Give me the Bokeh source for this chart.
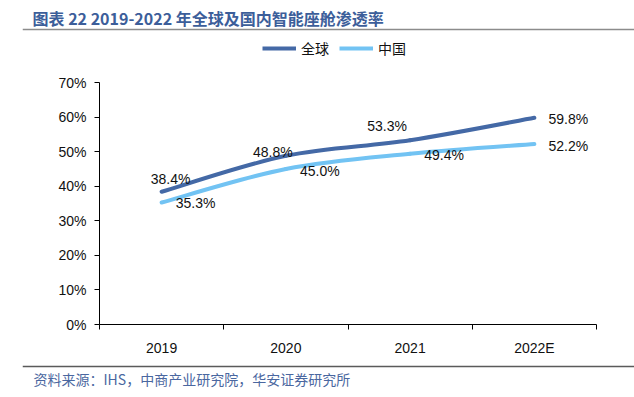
from bokeh.plotting import figure
from bokeh.layouts import column
from bokeh.models import (Range1d, FixedTicker, Label, Legend, LegendItem,
                          ColumnDataSource, Span)
from bokeh.core.properties import value
from bokeh.embed import file_html
from bokeh.resources import INLINE

# ---- data ----
categories = ["2019", "2020", "2021", "2022E"]
global_rate = [38.4, 48.8, 53.3, 59.8]
china_rate = [35.3, 45.0, 49.4, 52.2]
series_names = ["全球", "中国"]
y_ticks = [0, 10, 20, 30, 40, 50, 60, 70]

title_text = "图表 22  2019-2022 年全球及国内智能座舱渗透率"
source_text = "资料来源：IHS，中商产业研究院，华安证券研究所"

# ---- styles ----
C_GLOBAL = "#4469a6"
C_CHINA = "#72c3f3"
C_TITLE = "#3c5e9a"
FONT = "Liberation Sans"
CJK = "Noto Sans CJK SC"

# label offsets (px) for each point: global then china
g_off_x = [9, -13, -23, 34]
g_off_y = [-13, -4, -14, 1]
c_off_x = [34, 34, 34, 34]
c_off_y = [1, 2, 1, 2]

W = 634
H_HEAD, H_MAIN, H_FOOT = 72, 286, 39
xs = [i + 0.5 for i in range(len(categories))]


def blank(height):
    f = figure(width=W, height=height, output_backend="svg",
               toolbar_location=None, x_range=Range1d(22, W),
               y_range=Range1d(height, 0), x_axis_type=None,
               y_axis_type=None, min_border_left=22, min_border_right=0,
               min_border_top=0, min_border_bottom=0, frame_align=False)
    f.grid.visible = False
    f.outline_line_color = None
    f.background_fill_color = "white"
    f.border_fill_color = "white"
    return f


# ---- header: title, rule, legend ----
head = blank(H_HEAD)
head.add_layout(Label(x=32, y=17, text=title_text, text_font=CJK,
                      text_font_size="16px", text_font_style="bold",
                      text_color=C_TITLE, text_baseline="middle"))
head.add_layout(Span(location=29, dimension="width", line_color="#8c8c8c",
                     line_width=1.5))
# legend keys (series drawn outside this header's visible range)
lg_g = head.line(x=xs, y=global_rate, line_color=C_GLOBAL, line_width=4)
lg_c = head.line(x=xs, y=china_rate, line_color=C_CHINA, line_width=4)
legend = Legend(items=[LegendItem(label=series_names[0], renderers=[lg_g]),
                       LegendItem(label=series_names[1], renderers=[lg_c])],
                orientation="horizontal", location=(240, 14),
                glyph_width=34, glyph_height=16, label_standoff=5, spacing=10,
                padding=0, margin=0, border_line_color=None,
                background_fill_alpha=0, label_text_font=CJK,
                label_text_font_size="14px", label_text_color="#111111",
                label_height=16)
head.add_layout(legend, "center")

# ---- main chart ----
p = figure(width=W, height=H_MAIN, output_backend="svg", toolbar_location=None,
           x_range=Range1d(0, len(categories)), y_range=Range1d(0, 70),
           min_border_left=99, min_border_right=38, min_border_top=10,
           min_border_bottom=28, frame_align=False)
p.outline_line_color = None
p.xgrid.visible = False
p.ygrid.visible = False
p.background_fill_color = "white"
p.border_fill_color = "white"


def bezier_source(ys):
    n = len(ys)
    pts = list(zip(xs, ys))
    d = dict(x0=[], y0=[], x1=[], y1=[], cx0=[], cy0=[], cx1=[], cy1=[])
    for i in range(n - 1):
        p0 = pts[max(i - 1, 0)]
        p1 = pts[i]
        p2 = pts[i + 1]
        p3 = pts[min(i + 2, n - 1)]
        d["x0"].append(p1[0]); d["y0"].append(p1[1])
        d["x1"].append(p2[0]); d["y1"].append(p2[1])
        d["cx0"].append(p1[0] + (p2[0] - p0[0]) / 6)
        d["cy0"].append(p1[1] + (p2[1] - p0[1]) / 6)
        d["cx1"].append(p2[0] - (p3[0] - p1[0]) / 6)
        d["cy1"].append(p2[1] - (p3[1] - p1[1]) / 6)
    return ColumnDataSource(d)


p.bezier(x0="x0", y0="y0", x1="x1", y1="y1", cx0="cx0", cy0="cy0",
         cx1="cx1", cy1="cy1", source=bezier_source(global_rate),
         line_color=C_GLOBAL, line_width=4, line_cap="round")
p.bezier(x0="x0", y0="y0", x1="x1", y1="y1", cx0="cx0", cy0="cy0",
         cx1="cx1", cy1="cy1", source=bezier_source(china_rate),
         line_color=C_CHINA, line_width=4, line_cap="round")

for ys, ox, oy in ((global_rate, g_off_x, g_off_y), (china_rate, c_off_x, c_off_y)):
    src = ColumnDataSource(dict(x=xs, y=ys, t=[f"{v:.1f}%" for v in ys],
                                ox=ox, oy=oy))
    p.text(x="x", y="y", text="t", x_offset="ox", y_offset="oy", source=src,
           text_font=value(FONT), text_font_size="14px", text_color="#111111",
           text_align="center", text_baseline="middle")

xa = p.xaxis[0]
xa.ticker = FixedTicker(ticks=xs, minor_ticks=list(range(len(categories) + 1)))
xa.major_label_overrides = {x: c for x, c in zip(xs, categories)}
xa.major_tick_line_color = None
xa.major_tick_out = 0
xa.major_tick_in = 0
xa.minor_tick_line_color = "black"
xa.minor_tick_out = 5
xa.minor_tick_in = 0
xa.major_label_standoff = 10
xa.axis_line_color = "black"
xa.major_label_text_font = FONT
xa.major_label_text_font_size = "14px"
xa.major_label_text_color = "#111111"

ya = p.yaxis[0]
ya.ticker = FixedTicker(ticks=y_ticks)
ya.major_label_overrides = {v: f"{v}%" for v in y_ticks}
ya.major_tick_out = 5
ya.major_tick_in = 0
ya.minor_tick_line_color = None
ya.major_label_standoff = 8
ya.axis_line_color = "black"
ya.major_label_text_font = FONT
ya.major_label_text_font_size = "14px"
ya.major_label_text_color = "#111111"

# ---- footer: rule and source ----
foot = blank(H_FOOT)
foot.add_layout(Span(location=8, dimension="width", line_color="#5a5a5a",
                     line_width=1.5))
foot.add_layout(Label(x=33, y=20, text=source_text, text_font=CJK,
                      text_font_size="14px", text_color="#4a67a0",
                      text_baseline="middle"))

layout = column(head, p, foot, spacing=0)
open("out.html", "w").write(file_html(layout, INLINE))
